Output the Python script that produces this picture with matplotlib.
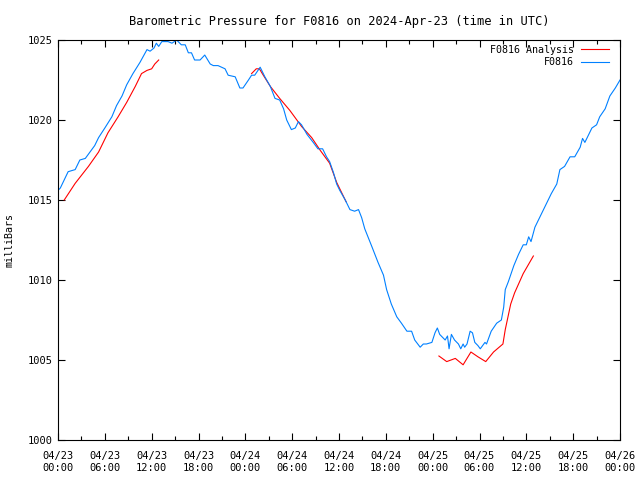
import matplotlib
matplotlib.use("Agg")
import matplotlib.pyplot as plt
from matplotlib.ticker import MultipleLocator

plt.rcParams["font.family"] = ["DejaVu Sans Mono"]
plt.rcParams["font.size"] = 7.2

# hours since 2024-04-23 00:00 UTC
obs_hours = [0.0, 0.3, 1.3, 2.2, 2.8, 3.5, 4.7, 5.2, 6.0, 6.9, 7.5, 8.2, 8.8, 9.6, 10.5,
             11.4, 11.8, 12.3, 12.6, 12.9, 13.3, 14.1, 14.6, 15.2, 15.8, 16.3, 16.7,
             17.1, 17.5, 18.2, 18.6, 18.8, 19.5, 19.9, 20.5, 21.4, 21.8, 22.7, 23.3,
             23.7, 24.4, 24.8, 25.2, 25.9, 26.5, 27.2, 27.8, 28.4, 28.9, 29.3, 29.9,
             30.4, 30.8, 31.2, 31.9, 32.7, 33.3, 33.9, 34.4, 34.8, 35.3, 35.7, 36.1,
             36.8, 37.4, 38.0, 38.5, 38.9, 39.3, 40.2, 41.0, 41.7, 42.1, 42.7, 43.4,
             44.0, 44.7, 45.3, 45.7, 46.4, 46.8, 47.2, 47.9, 48.3, 48.6, 48.9, 49.6,
             49.9, 50.1, 50.4, 50.8, 51.3, 51.6, 51.9, 52.1, 52.4, 52.8, 53.1, 53.4,
             53.8, 54.1, 54.7, 54.9, 55.5, 56.2, 56.8, 57.1, 57.3, 57.7, 58.4, 59.0,
             59.6, 60.0, 60.3, 60.6, 61.1, 62.0, 62.6, 63.2, 63.9, 64.3, 64.9, 65.6,
             66.2, 66.9, 67.2, 67.5, 67.9, 68.4, 69.0, 69.4, 70.1, 70.7, 71.4, 72.0]
obs_mb = [1015.6, 1015.75, 1016.77, 1016.9, 1017.5, 1017.6, 1018.4, 1018.9, 1019.5,
          1020.2, 1020.9, 1021.5, 1022.2, 1022.9, 1023.6, 1024.4, 1024.3, 1024.5,
          1024.8, 1024.6, 1024.9, 1024.9, 1024.8, 1025.0, 1024.7, 1024.7, 1024.2,
          1024.2, 1023.75, 1023.75, 1023.96, 1024.06, 1023.5, 1023.4, 1023.4, 1023.2,
          1022.8, 1022.7, 1022.0, 1022.0, 1022.5, 1022.8, 1022.8, 1023.3, 1022.7,
          1022.1, 1021.35, 1021.25, 1020.7, 1020.0, 1019.4, 1019.5, 1019.9, 1019.7,
          1019.1, 1018.6, 1018.2, 1018.2, 1017.7, 1017.4, 1016.7, 1016.0, 1015.6,
          1015.0, 1014.4, 1014.3, 1014.4, 1013.9, 1013.2, 1012.1, 1011.1, 1010.3,
          1009.4, 1008.5, 1007.7, 1007.3, 1006.8, 1006.8, 1006.25, 1005.8, 1006.0,
          1006.0, 1006.1, 1006.7, 1007.0, 1006.6, 1006.25, 1006.5, 1005.7, 1006.6,
          1006.25, 1006.0, 1005.7, 1006.0, 1005.8, 1006.0, 1006.8, 1006.7, 1006.1,
          1005.9, 1005.7, 1006.1, 1006.0, 1006.8, 1007.3, 1007.5, 1008.3, 1009.4,
          1009.9, 1010.9, 1011.6, 1012.2, 1012.2, 1012.7, 1012.4, 1013.3, 1014.2,
          1014.8, 1015.4, 1016.0, 1016.9, 1017.1, 1017.7, 1017.7, 1018.3, 1018.85,
          1018.6, 1019.0, 1019.5, 1019.7, 1020.2, 1020.7, 1021.5, 1022.0, 1022.5]

# analysis segments
ana1_hours = [0.8, 2.2, 3.9, 5.2, 6.4, 7.7, 8.8, 9.9, 10.7, 11.4, 12.0, 12.4, 12.9]
ana1_mb = [1015.0, 1016.04, 1017.1, 1018.0, 1019.2, 1020.2, 1021.1, 1022.1, 1022.9,
           1023.1, 1023.2, 1023.5, 1023.75]
ana2_hours = [24.8, 25.4, 25.8, 26.3, 27.2, 28.4, 29.7, 30.6, 31.2, 32.5, 33.6, 34.8,
              35.7, 36.9]
ana2_mb = [1022.9, 1023.2, 1023.2, 1022.8, 1022.1, 1021.35, 1020.6, 1020.0, 1019.6,
           1018.9, 1018.1, 1017.3, 1016.1, 1014.9]
ana3_hours = [48.8, 49.8, 50.9, 51.9, 52.9, 53.8, 54.8, 55.8, 57.0, 57.3, 58.0, 58.5,
              59.6, 60.9]
ana3_mb = [1005.25, 1004.9, 1005.1, 1004.7, 1005.5, 1005.2, 1004.9, 1005.5, 1006.0,
           1006.9, 1008.5, 1009.2, 1010.4, 1011.5]

tick_hours = list(range(0, 73, 6))
tick_labels = ["04/23\n00:00", "04/23\n06:00", "04/23\n12:00", "04/23\n18:00",
               "04/24\n00:00", "04/24\n06:00", "04/24\n12:00", "04/24\n18:00",
               "04/25\n00:00", "04/25\n06:00", "04/25\n12:00", "04/25\n18:00",
               "04/26\n00:00"]

fig = plt.figure(figsize=(6.4, 4.8), dpi=100)
ax = fig.add_axes([58 / 640, 40 / 480, 562 / 640, 400 / 480])

red = "#ff0000"
ax.plot(ana1_hours, ana1_mb, color=red, lw=0.8, label="F0816 Analysis")
ax.plot(ana2_hours, ana2_mb, color=red, lw=0.8)
ax.plot(ana3_hours, ana3_mb, color=red, lw=0.8)
ax.plot(obs_hours, obs_mb, color="#0080ff", lw=0.8, label="F0816")

ax.set_xlim(0, 72)
ax.set_ylim(1000, 1025)
ax.set_xticks(tick_hours)
ax.set_xticklabels(tick_labels, fontsize=7.5, linespacing=1.25)
ax.xaxis.set_minor_locator(MultipleLocator(3))
ax.set_yticks([1000, 1005, 1010, 1015, 1020, 1025])
ax.set_yticklabels(["1000", "1005", "1010", "1015", "1020", "1025"], fontsize=7.5)
ax.tick_params(which="both", direction="in", top=True, right=True, width=0.8)
ax.tick_params(which="major", length=5)
ax.tick_params(which="minor", length=3)
ax.tick_params(axis="x", which="major", pad=8)
for s in ax.spines.values():
    s.set_linewidth(0.8)

ax.set_ylabel("milliBars", labelpad=10)
ax.set_title("Barometric Pressure for F0816 on 2024-Apr-23 (time in UTC)", pad=11)
ax.legend(loc="upper right", bbox_to_anchor=(0.9875, 0.9975), frameon=False,
          markerfirst=False, handlelength=2.8, borderaxespad=0.0, borderpad=0.4,
          labelspacing=0.25, handletextpad=0.7)

fig.savefig("out.png", dpi=100)
